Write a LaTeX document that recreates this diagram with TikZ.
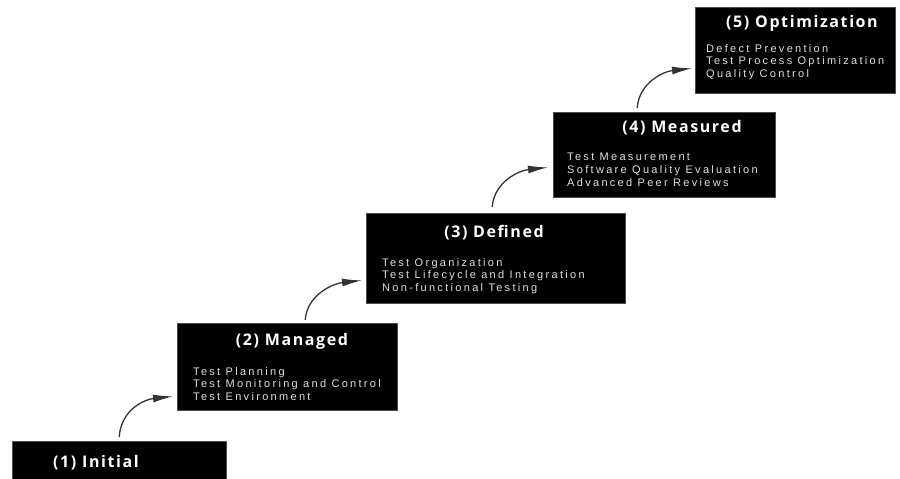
\documentclass[tikz,border=0pt]{standalone}
\usepackage{fontspec}
\setmainfont{Liberation Sans}
\newfontfamily\titlefont{Open Sans}
\usetikzlibrary{arrows.meta}

\tikzset{
    levelbox/.style={fill=black, draw=black!70, inner sep=0pt, anchor=north west},
    leveltitle/.style={text=white, inner sep=0pt,
        font=\titlefont\fontsize{16}{18}\selectfont\bfseries\addfontfeature{LetterSpace=10}},
    levelitems/.style={text=black!12, anchor=north west, inner sep=0pt, align=left,
        font=\fontsize{11}{12.8}\selectfont\addfontfeature{LetterSpace=21}},
    climb/.style={draw=black!80, line width=1.3pt, -{Latex[length=20pt,width=8pt]}}
}

\begin{document}
\begin{tikzpicture}[x=1pt, y=-1pt]
    \useasboundingbox (0,0) rectangle (900,479);

        %%the level boxes
        \node[levelbox, minimum width=214pt, minimum height=50pt] (b1) at (12,441) {};
        \node[levelbox, minimum width=220pt, minimum height=87pt] (b2) at (177,323) {};
        \node[levelbox, minimum width=259pt, minimum height=90pt] (b3) at (366,213) {};
        \node[levelbox, minimum width=222pt, minimum height=85pt] (b4) at (553,112) {};
        \node[levelbox, minimum width=200pt, minimum height=86pt] (b5) at (695,7) {};

        %%titles
        \node[leveltitle] (t1) at (96,463) {(1) Initial};
        \node[leveltitle] (t2) at (292,341) {(2) Managed};
        \node[leveltitle] (t3) at (494,233) {(3) Defined};
        \node[leveltitle] (t4) at (682,128) {(4) Measured};
        \node[leveltitle] (t5) at (802,23) {(5) Optimization};

        %%process areas
        \node[levelitems] (i2) at (193,367) {Test Planning\\Test Monitoring and Control\\Test Environment};
        \node[levelitems] (i3) at (382,258) {Test Organization\\Test Lifecycle and Integration\\Non-functional Testing};
        \node[levelitems] (i4) at (567,153) {Test Measurement\\Software Quality Evaluation\\Advanced Peer Reviews};
        \node[levelitems] (i5) at (706,44) {Defect Prevention\\Test Process Optimization\\Quality Control};

        %%the arrows up the stairs
        \draw[climb] ([yshift=4pt]b1.north) .. controls +(2,-28) and +(-28,3) .. ([xshift=-4pt,yshift=14pt]b2.south west);
        \draw[climb] ([xshift=18pt,yshift=3pt]b2.north) .. controls +(2,-26) and +(-28,3) .. ([xshift=-4pt,yshift=23pt]b3.south west);
        \draw[climb] ([xshift=-3.5pt,yshift=6pt]b3.north) .. controls +(2,-26) and +(-28,3) .. ([xshift=-5pt,yshift=30pt]b4.south west);
        \draw[climb] ([xshift=-27pt,yshift=4pt]b4.north) .. controls +(2,-26) and +(-28,3) .. ([xshift=-3pt,yshift=25pt]b5.south west);
\end{tikzpicture}
\end{document}
